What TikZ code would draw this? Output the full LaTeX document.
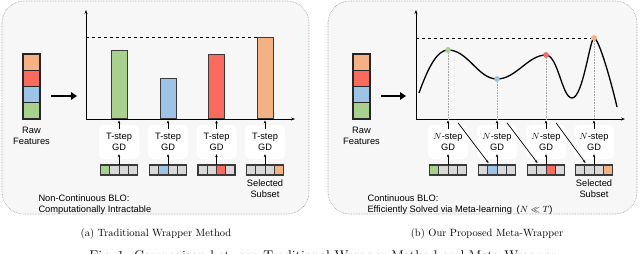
\documentclass[tikz,border=0pt]{standalone}
\usepackage{fontspec}
\usepackage{amssymb}
\usepackage{tikz}
\usetikzlibrary{arrows.meta,positioning,calc}
\newfontfamily\labelfont{Liberation Sans}

\definecolor{cOrange}{HTML}{F4B183}
\definecolor{cRed}{HTML}{FA6B5E}
\definecolor{cBlue}{HTML}{9DC3E6}
\definecolor{cGreen}{HTML}{A9D18E}
\definecolor{cGrey}{HTML}{D9D9D9}
\definecolor{cPanel}{HTML}{F7F7F7}
\definecolor{cEdge}{HTML}{3A3A3A}

\begin{document}
\begin{tikzpicture}[
  x=1pt, y=-1pt,
  font=\labelfont\fontsize{9.3}{11}\selectfont,
  panel/.style    = {draw=gray!85, densely dotted, fill=cPanel,
                     rounded corners=22pt, line width=0.6pt},
  featcell/.style = {draw=black!85, line width=1.3pt, minimum width=17pt,
                     minimum height=16.25pt, inner sep=0pt, outer sep=0pt},
  bar/.style      = {draw=cEdge, line width=0.9pt, minimum width=16pt,
                     inner sep=0pt, anchor=south},
  gdbox/.style    = {fill=white, rounded corners=5pt, minimum width=40pt,
                     minimum height=34pt, align=center, inner sep=1pt},
  subcell/.style  = {draw=cEdge, line width=0.7pt, fill=cGrey,
                     minimum width=9.25pt, minimum height=10pt,
                     inner sep=0pt, outer sep=0pt},
  subframe/.style = {draw=cEdge, line width=1.2pt},
  dot/.style      = {circle, inner sep=0pt, minimum size=5.5pt},
  axis/.style     = {{Stealth[length=4pt,width=3pt]}-{Stealth[length=4pt,width=3pt]}, line width=0.8pt},
  bigarr/.style   = {-{Triangle[length=6pt,width=7.5pt]}, line width=2.3pt},
  smallarr/.style = {-{Stealth[length=3pt,width=2.6pt]}, line width=0.7pt},
  guide/.style    = {draw=gray!70, densely dotted, line width=0.6pt},
  curve/.style    = {line width=1.3pt},
  caption/.style  = {font=\rmfamily\fontsize{10.5}{12}\selectfont, anchor=base},
]
\useasboundingbox (0,0) rectangle (640,254);

%% ─── panels ───────────────────────────────────────────────────────────────
\draw[panel] (2,1) rectangle (309,214);
\draw[panel] (328,1) rectangle (637,214);

%% ─── raw features (both panels) ───────────────────────────────────────────
\foreach \p/\cx in {L/31.5, R/361.5} {
  \foreach \c [count=\i] in {cOrange,cRed,cBlue,cGreen}
    \node[featcell, fill=\c] (feat\p\i) at (\cx,{54+16.25*\i-8.125}) {};
  \node[align=center, below=5pt of feat\p4] (raw\p) {Raw\\Features};
}
\coordinate (arrL0) at (51,96);  \coordinate (arrL1) at (77,96);
\coordinate (arrR0) at (381,96); \coordinate (arrR1) at (406,96);
\draw[bigarr] (arrL0)--(arrL1);
\draw[bigarr] (arrR0)--(arrR1);

%% ─── (a) traditional wrapper: axes + bars ─────────────────────────────────
\coordinate (oL) at (86,119);
\coordinate (yL) at (86,10);
\coordinate (xL) at (295,119);
\draw[axis] (yL) |- (xL);

\foreach \n/\bx/\h/\c in {1/119/68/cGreen, 2/168/40/cBlue, 3/216.5/64/cRed, 4/265/81/cOrange} {
  \node[bar, fill=\c, minimum height=\h pt] (barL\n) at (\bx,119) {};
  \node[gdbox] (gdL\n) at (\bx,142) {T-step\\GD};
  \foreach \j in {1,...,4}
    \node[subcell] (subL\n-\j) at ({\bx+(\j-2.5)*9.25},170) {};
  \node[subcell, fill=\c] (subL\n-\n) at ({\bx+(\n-2.5)*9.25},170) {};
  \draw[subframe] (subL\n-1.north west) rectangle (subL\n-4.south east);
  \draw[smallarr] ([yshift=-4pt]gdL\n.north) -- ([yshift=-1.5pt]barL\n.south);
  \draw[smallarr] (subL\n-2.north east) -- ([yshift=5pt]gdL\n.south);
}
\draw[dashed, line width=0.8pt] (oL |- barL4.north) -- (barL4.north west);

\node[align=center, below=1.5pt of subL4-2.south east] (selL) {Selected\\Subset};
\node[anchor=west, align=left] (bloL) at (35,204.5)
  {Non-Continuous BLO:\\Computationally Intractable};

%% ─── (b) meta-wrapper: axes + curve ───────────────────────────────────────
\coordinate (oR) at (416,119);
\coordinate (yR) at (416,10);
\coordinate (xR) at (625,119);
\draw[axis] (yR) |- (xR);

\foreach \n/\bx/\ty/\c in {1/448/50/cGreen, 2/497/79/cBlue, 3/546/55/cRed, 4/594/38/cOrange} {
  \node[dot, fill=\c] (dotR\n) at (\bx,\ty) {};
  \draw[guide] (dotR\n) -- (dotR\n |- oR);
  \node[gdbox] (gdR\n) at (\bx,142) {$N$-step\\GD};
  \foreach \j in {1,...,4}
    \node[subcell] (subR\n-\j) at ({\bx+(\j-2.5)*9.25},170) {};
  \node[subcell, fill=\c] (subR\n-\n) at ({\bx+(\n-2.5)*9.25},170) {};
  \draw[subframe] (subR\n-1.north west) rectangle (subR\n-4.south east);
  \draw[smallarr] ([yshift=-4pt]gdR\n.north) -- ([yshift=-1.5pt]gdR\n.north |- oR);
  \draw[smallarr] (subR\n-2.north east) -- ([yshift=5pt]gdR\n.south);
}
\draw[dashed, line width=0.8pt] (oR |- dotR4) -- (dotR4);

% curve through the four evaluated subsets
\coordinate (cvS) at (419,93);
\coordinate (cvM) at (572,98);
\coordinate (cvE) at (617,107);
\draw[curve]
  (cvS) .. controls (428,68) and (437,50) .. (dotR1.center)
        .. controls (468,50) and (478,79) .. (dotR2.center)
        .. controls (516,79) and (528,55) .. (dotR3.center)
        .. controls (558,55) and (562,98) .. (cvM)
        .. controls (583,98) and (590,38) .. (dotR4.center)
        .. controls (599,38) and (612,85) .. (cvE);
\foreach \n/\c in {1/cGreen, 2/cBlue, 3/cRed, 4/cOrange}
  \node[dot, fill=\c] at (dotR\n) {};

% hand-over of the meta-learned state to the next subset
\foreach \a/\b in {1/2, 2/3, 3/4}
  \draw[smallarr] ([xshift=10pt,yshift=2pt]gdR\a.north)
    -- ([xshift=-8.5pt,yshift=2pt]subR\b-2.north east);

\node[align=center, below=1.5pt of subR4-2.south east] (selR) {Selected\\Subset};
\node[anchor=west, align=left] (bloR) at (364,204.5)
  {Continuous BLO:\\Efficiently Solved via Meta-learning\enspace ($N \ll T$)};

%% ─── captions ─────────────────────────────────────────────────────────────
\node[caption] (capL) at (156,236) {(a) Traditional Wrapper Method};
\node[caption] (capR) at (487,236) {(b) Our Proposed Meta-Wrapper};
\node[caption, font=\rmfamily\fontsize{14}{16}\selectfont] (figcap) at (323,260)
  {Fig.~1: Comparison between Traditional Wrapper Method and Meta-Wrapper};

\end{tikzpicture}
\end{document}
